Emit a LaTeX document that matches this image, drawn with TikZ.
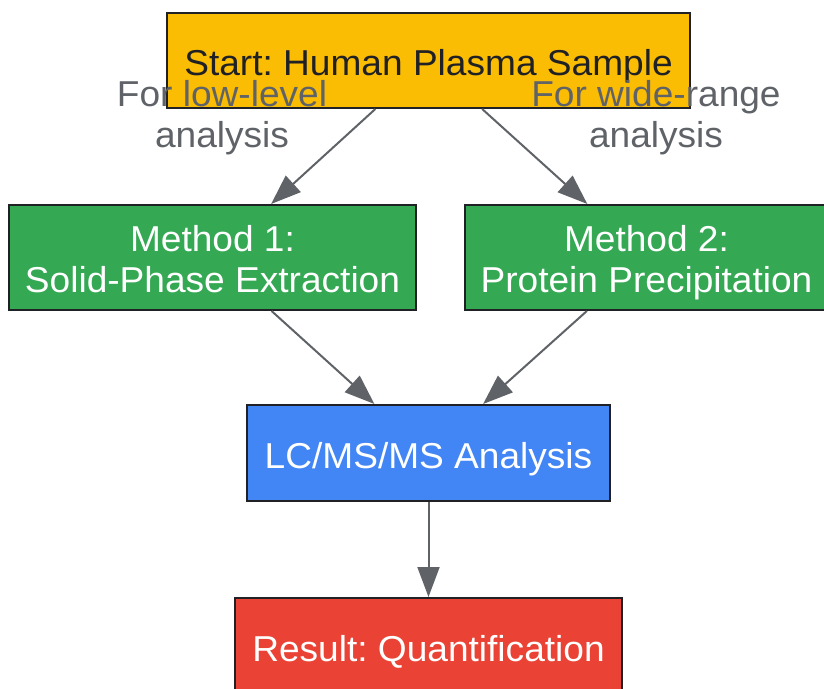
\documentclass[tikz,border=0pt]{standalone}
\usepackage{fontspec}
\setmainfont{Liberation Sans}[FakeStretch=1.03]
\usetikzlibrary{positioning,arrows.meta}
\definecolor{gyellow}{HTML}{FBBC04}
\definecolor{ggreen}{HTML}{34A853}
\definecolor{gblue}{HTML}{4285F4}
\definecolor{gred}{HTML}{EA4335}
\definecolor{ggray}{HTML}{5F6368}
\definecolor{gdark}{HTML}{202124}
\tikzset{>={Triangle[length=15pt,width=11pt]}}
\tikzset{
  box/.style={draw=gdark,line width=1pt,rectangle,align=center,
    font=\fontsize{18}{20.5}\selectfont,inner sep=0pt,
    text height=15pt,text depth=0pt},
  twoline/.style={text height=35.5pt},
  flow/.style={->,draw=ggray,line width=1pt},
  elabel/.style={align=center,text=ggray,font=\fontsize{18}{20.5}\selectfont,
    inner sep=0pt,text height=35.5pt,text depth=0pt}
}

\begin{document}
\frenchspacing
\begin{tikzpicture}[x=0.5pt,y=-0.5pt]
% Frame of the picture
\useasboundingbox (0,0) rectangle (824,689);
\clip (0,0) rectangle (824,689);

% Draw boxes
\node[box,fill=gyellow,text=gdark,minimum width=261.5pt,minimum height=47.5pt]
  (start) at (428.5,60.5) {Start: Human Plasma Sample};
\node[box,twoline,fill=ggreen,text=white,minimum width=203.5pt,minimum height=52.5pt]
  (spe) at (212.5,257.5) {Method 1:\\Solid-Phase Extraction};
\node[box,twoline,fill=ggreen,text=white,minimum width=181.5pt,minimum height=52.5pt]
  (ppt) at (646.5,257.5) {Method 2:\\Protein Precipitation};
\node[box,fill=gblue,text=white,minimum width=181.5pt,minimum height=48pt]
  (lcms) at (428.5,453) {LC/MS/MS Analysis};
\node[box,fill=gred,text=white,minimum width=193.5pt,minimum height=48pt]
  (result) at (428.5,646) {Result: Quantification};

% Draw connectors
\draw[flow] (start) -- (spe);
\draw[flow] (start) -- (ppt);
\draw[flow] (spe) -- (lcms);
\draw[flow] (ppt) -- (lcms);
\draw[flow] (lcms) -- (result);

% Labels of the two branches
\node[elabel] (lowlbl) at (222,112) {For low-level\\analysis};
\node[elabel] (widelbl) at (656,112) {For wide-range\\analysis};
\end{tikzpicture}
\end{document}
